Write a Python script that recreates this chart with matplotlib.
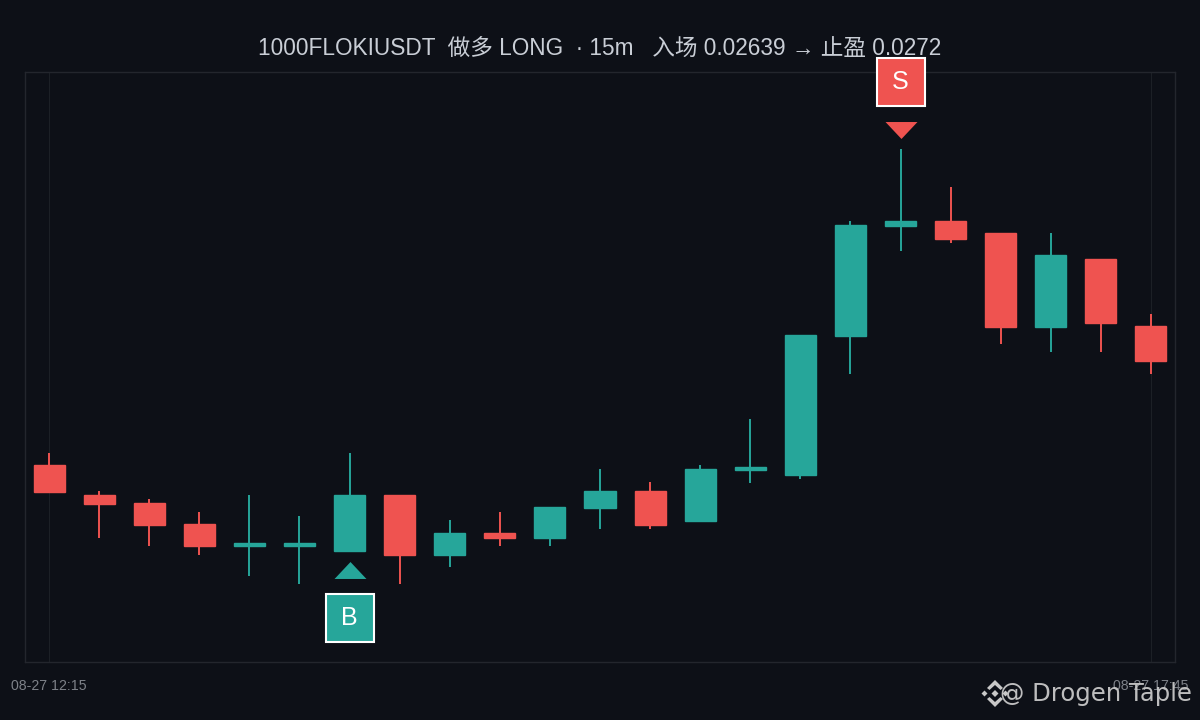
import matplotlib
matplotlib.use("Agg")
import matplotlib.pyplot as plt
from matplotlib.path import Path
from matplotlib.patches import Polygon
from matplotlib.transforms import offset_copy

BG = "#0d1017"
UP = "#26a69a"
DOWN = "#ef5350"

times = ["08-27 12:15", "08-27 17:45"]
opens = [.026479, .026390, .026366, .026304, .026239, .026239, .026224, .026390, .026213, .026278, .026263, .026352,
         .026402, .026313, .026464, .026449, .026860, .027185, .027200, .027164, .026887, .027088, .026890]
highs = [.026514, .026402, .026378, .026340, .026390, .026328, .026514, .026390, .026316, .026340, .026355, .026467,
         .026428, .026479, .026615, .026863, .027200, .027413, .027300, .027164, .027164, .027088, .026925]
lows = [.026399, .026263, .026239, .026213, .026151, .026127, .026224, .026127, .026177, .026239, .026239, .026289,
        .026289, .026313, .026425, .026437, .026748, .027111, .027135, .026836, .026813, .026813, .026748]
closes = [.026399, .026363, .026301, .026239, .026248, .026248, .026390, .026213, .026278, .026263, .026355, .026402,
          .026301, .026467, .026473, .026863, .027188, .027200, .027147, .026887, .027099, .026898, .026786]
buy_idx = 6
sell_idx = 17
title = "1000FLOKIUSDT  做多 LONG  · 15m   入场 0.02639 → 止盈 0.0272"

plt.rcParams["font.family"] = ["Liberation Sans", "Noto Sans CJK SC", "DejaVu Sans"]

fig = plt.figure(figsize=(12, 7.2), dpi=100, facecolor=BG)
ax = fig.add_axes([25 / 1200, 1 - 662 / 720, 1150 / 1200, 590 / 720], facecolor=BG)

xs = list(range(len(opens)))
colors = [UP if c >= o else DOWN for o, c in zip(opens, closes)]
bottoms = [min(o, c) for o, c in zip(opens, closes)]
heights = [abs(c - o) for o, c in zip(opens, closes)]

ax.vlines(xs, lows, highs, colors=colors, lw=1.4, zorder=3)
ax.bar(xs, heights, bottom=bottoms, width=0.62, color=colors, edgecolor=colors, lw=1, zorder=4)

ax.set_xlim(-0.48, 22.48)
ax.set_ylim(0.025896, 0.027640)
ax.set_xticks([xs[0], xs[-1]], times)
ax.set_yticks([])
ax.grid(axis="x", color="#1c2026", lw=0.8)
ax.set_axisbelow(True)
ax.tick_params(axis="x", length=0, pad=12, labelsize=10.2, labelcolor="#7d8188")
for s in ax.spines.values():
    s.set_color("#23262d")
    s.set_linewidth(1)

fig.text(0.5, 1 - 48 / 720, title, ha="center", va="center", fontsize=16.3, color="#c9ced6")

# triangle marker, 32x17 px
tri_up = Path([(-16, -8.5), (16, -8.5), (0, 8.5), (-16, -8.5)], closed=True)
tri_down = Path([(-16, 8.5), (16, 8.5), (0, -8.5), (-16, 8.5)], closed=True)


def signal(i, y, sign, color, path, label):
    tri_tr = offset_copy(ax.transData, fig, x=0, y=sign * 18.5, units="dots")
    box_tr = offset_copy(ax.transData, fig, x=0, y=sign * 67, units="dots")
    ax.plot([i], [y], marker=path, ms=23, color=color, mew=0, transform=tri_tr, clip_on=False, zorder=5)
    ax.plot([i], [y], marker="s", ms=35, mfc=color, mec="white", mew=1.5, transform=box_tr,
            clip_on=False, zorder=6)
    ax.text(i, y, label, transform=box_tr, ha="center", va="center", color="white", fontsize=18,
            clip_on=False, zorder=7)


signal(buy_idx, lows[buy_idx], -1, UP, tri_up, "B")
signal(sell_idx, highs[sell_idx], 1, DOWN, tri_down, "S")

# watermark logo, px coordinates around its centre
LOGO = "#c8c8c8"
cx, cy = 995, 693.5
pieces = [
    [(-3.5, 0), (0, -3.5), (3.5, 0), (0, 3.5)],
    [(-13.5, 0), (-10.5, -3), (-7.5, 0), (-10.5, 3)],
    [(13.5, 0), (10.5, -3), (7.5, 0), (10.5, 3)],
    [(0, -13.5), (8, -5.5), (5.5, -3.5), (0, -8.5), (-5.5, -3.5), (-8, -5.5)],
    [(0, 13.5), (8, 5.5), (5.5, 3.5), (0, 8.5), (-5.5, 3.5), (-8, 5.5)],
]
for pts in pieces:
    fig.add_artist(Polygon([((cx + a) / 1200, 1 - (cy + b) / 720) for a, b in pts], closed=True,
                           transform=fig.transFigure, fc=LOGO, ec="none"))
fig.text(1192 / 1200, 1 - 694 / 720, "@ Drogen Taple", ha="right", va="center", fontsize=17.5,
         color="#c8c8c8", family="DejaVu Sans", alpha=0.95)

fig.savefig("out.png", dpi=100, facecolor=BG)
